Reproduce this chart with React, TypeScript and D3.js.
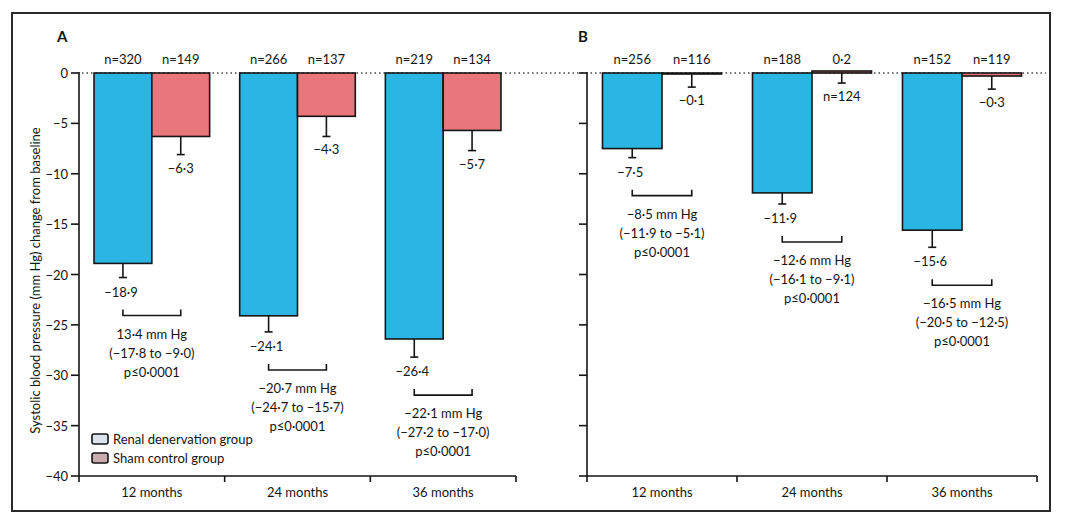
import React from "react";
import * as d3 from "d3";

const months = ["12 months", "24 months", "36 months"];
const groups = ["renal", "sham"];

const renalA = [-18.9, -24.1, -26.4];
const shamA = [-6.3, -4.3, -5.7];
const renalAErr = [-20.3, -25.7, -28.2];
const shamAErr = [-8.1, -6.3, -7.7];
const nRenalA = [320, 266, 219];
const nShamA = [149, 137, 134];
const diffA = ["13·4 mm Hg", "−20·7 mm Hg", "−22·1 mm Hg"];
const ciA = ["(−17·8 to −9·0)", "(−24·7 to −15·7)", "(−27·2 to −17·0)"];

const renalB = [-7.5, -11.9, -15.6];
const shamB = [-0.1, 0.2, -0.3];
const renalBErr = [-8.4, -13.0, -17.3];
const shamBErr = [-1.4, -1.0, -1.6];
const nRenalB = [256, 188, 152];
const nShamB = [116, 124, 119];
const diffB = ["−8·5 mm Hg", "−12·6 mm Hg", "−16·5 mm Hg"];
const ciB = ["(−11·9 to −5·1)", "(−16·1 to −9·1)", "(−20·5 to −12·5)"];

const pText = "p≤0·0001";
const yTicks = [0, -5, -10, -15, -20, -25, -30, -35, -40];
const legendLabels = ["Renal denervation group", "Sham control group"];

const BLUE = "#2bb5e5";
const RED = "#e8767b";
const LEG = ["#dbe4ec", "#c9abb0"];
const FONT = "Lato, 'Open Sans', sans-serif";
const INK = "#151515";

const fmt = (v: number) => {
  const s = d3.format(".1f")(Math.abs(v)).replace(".", "·");
  return v < 0 ? "−" + s : s;
};

const y = d3.scaleLinear().domain([0, -40]).range([73, 476]);

type PanelProps = {
  label: string;
  x0: number;
  x1: number;
  renal: number[];
  sham: number[];
  renalErr: number[];
  shamErr: number[];
  nRenal: number[];
  nSham: number[];
  diff: string[];
  ci: string[];
  showTickLabels: boolean;
};

function Panel(p: PanelProps) {
  const xb = d3.scaleBand<string>().domain(months).range([p.x0, p.x1]).padding(0);
  const xg = d3
    .scaleBand<string>()
    .domain(groups)
    .range([0, xb.bandwidth()])
    .paddingInner(0)
    .paddingOuter(0.26);
  const bw = xg.bandwidth();
  const y0 = y(0);
  const boundaries = [p.x0, ...months.map((m) => (xb(m) as number) + xb.bandwidth())];

  return (
    <g>
      <text x={p.label === "A" ? 57 : 578} y={42} fontFamily={FONT} fontWeight={700} fontSize={15} fill={INK}>
        {p.label}
      </text>
      {/* y axis */}
      <line x1={p.x0} x2={p.x0} y1={y(0) - 1} y2={y(-40)} stroke={INK} strokeWidth={1.6} />
      {yTicks.map((t) => (
        <g key={t}>
          <line x1={p.x0 - 8} x2={p.x0} y1={y(t)} y2={y(t)} stroke={INK} strokeWidth={1.6} />
          {p.showTickLabels && (
            <text
              x={p.x0 - 11}
              y={y(t)}
              textAnchor="end"
              dominantBaseline="central"
              fontFamily={FONT}
              fontSize={13}
              fill={INK}
            >
              {t === 0 ? "0" : "−" + Math.abs(t)}
            </text>
          )}
        </g>
      ))}
      {/* x axis */}
      <line x1={p.x0} x2={p.x1} y1={y(-40)} y2={y(-40)} stroke={INK} strokeWidth={1.6} />
      {boundaries.map((b, i) => (
        <line key={i} x1={b} x2={b} y1={y(-40)} y2={y(-40) + 6} stroke={INK} strokeWidth={1.6} />
      ))}
      {months.map((m) => (
        <text
          key={m}
          x={(xb(m) as number) + xb.bandwidth() / 2}
          y={492}
          textAnchor="middle"
          dominantBaseline="central"
          fontFamily={FONT}
          fontSize={13}
          fill={INK}
        >
          {m}
        </text>
      ))}
      {months.map((m, i) => {
        const bx = xb(m) as number;
        const rx = bx + (xg("renal") as number);
        const sx = bx + (xg("sham") as number);
        const rc = rx + bw / 2;
        const sc = sx + bw / 2;
        const rv = p.renal[i];
        const sv = p.sham[i];
        const re = p.renalErr[i];
        const se = p.shamErr[i];
        const rLabelY = y(re) + 14;
        const sAbove = sv > 0;
        const sLabelY = y(se) + 13;
        const brY = rLabelY + 24;
        const brC = (rc + sc) / 2;
        const sTop = Math.min(y(sv), y0);
        const sH = Math.max(Math.abs(y(sv) - y0), 1);
        return (
          <g key={m}>
            {/* bars */}
            <rect x={rx} y={y0} width={bw} height={y(rv) - y0} fill={BLUE} stroke={INK} strokeWidth={1.6} />
            <rect x={sx} y={sTop} width={bw} height={sH} fill={RED} stroke={INK} strokeWidth={1.6} />
            {/* error bars */}
            <line x1={rc} x2={rc} y1={y(rv)} y2={y(re)} stroke={INK} strokeWidth={1.6} />
            <line x1={rc - 4} x2={rc + 4} y1={y(re)} y2={y(re)} stroke={INK} strokeWidth={1.6} />
            <line x1={sc} x2={sc} y1={Math.max(y(sv), y0)} y2={y(se)} stroke={INK} strokeWidth={1.6} />
            <line x1={sc - 4} x2={sc + 4} y1={y(se)} y2={y(se)} stroke={INK} strokeWidth={1.6} />
            {/* n labels */}
            <text x={rc} y={59} textAnchor="middle" dominantBaseline="central" fontFamily={FONT} fontSize={13} fill={INK}>
              {"n=" + p.nRenal[i]}
            </text>
            <text
              x={sc}
              y={sAbove ? sLabelY : 59}
              textAnchor="middle"
              dominantBaseline="central"
              fontFamily={FONT}
              fontSize={13}
              fill={INK}
            >
              {"n=" + p.nSham[i]}
            </text>
            {/* value labels */}
            <text x={rc - 2} y={rLabelY} textAnchor="middle" dominantBaseline="central" fontFamily={FONT} fontSize={13} fill={INK}>
              {fmt(rv)}
            </text>
            <text
              x={sc}
              y={sAbove ? 59 : sLabelY}
              textAnchor="middle"
              dominantBaseline="central"
              fontFamily={FONT}
              fontSize={13}
              fill={INK}
            >
              {fmt(sv)}
            </text>
            {/* bracket */}
            <path
              d={`M${rc},${brY - 6}V${brY}H${sc}V${brY - 6}`}
              fill="none"
              stroke={INK}
              strokeWidth={1.6}
            />
            {[p.diff[i], p.ci[i], pText].map((t, k) => (
              <text
                key={k}
                x={brC}
                y={brY + 18 + k * 19}
                textAnchor="middle"
                dominantBaseline="central"
                fontFamily={FONT}
                fontSize={13}
                fill={INK}
              >
                {t}
              </text>
            ))}
          </g>
        );
      })}
    </g>
  );
}

export default function App() {
  return (
    <svg
      width={1080}
      height={525}
      viewBox="0 0 1080 525"
      style={{ position: "absolute", left: 0, top: 0, background: "#fff" }}
    >
      <rect x={0} y={0} width={1080} height={525} fill="#fff" />
      <rect x={12} y={13} width={1038} height={498} fill="#fff" stroke="#2a2a2a" strokeWidth={2} />
      {/* zero dotted line */}
      <line x1={82} x2={1046} y1={y(0)} y2={y(0)} stroke="#444" strokeWidth={1.4} strokeDasharray="1.5,3" />
      <Panel
        label="A"
        x0={79}
        x1={516}
        renal={renalA}
        sham={shamA}
        renalErr={renalAErr}
        shamErr={shamAErr}
        nRenal={nRenalA}
        nSham={nShamA}
        diff={diffA}
        ci={ciA}
        showTickLabels={true}
      />
      <Panel
        label="B"
        x0={587}
        x1={1037}
        renal={renalB}
        sham={shamB}
        renalErr={renalBErr}
        shamErr={shamBErr}
        nRenal={nRenalB}
        nSham={nShamB}
        diff={diffB}
        ci={ciB}
        showTickLabels={false}
      />
      {/* y axis title */}
      <text
        transform={`translate(35,${(y(0) + y(-40)) / 2 + 6}) rotate(-90)`}
        textAnchor="middle"
        dominantBaseline="central"
        fontFamily={FONT}
        fontSize={13}
        fill={INK}
      >
        Systolic blood pressure (mm Hg) change from baseline
      </text>
      {/* legend */}
      {legendLabels.map((l, i) => (
        <g key={l}>
          <rect
            x={92}
            y={434 + i * 19}
            width={16}
            height={10}
            rx={2}
            fill={LEG[i]}
            stroke={INK}
            strokeWidth={1.6}
          />
          <text x={113} y={439 + i * 19} dominantBaseline="central" fontFamily={FONT} fontSize={13} fill={INK}>
            {l}
          </text>
        </g>
      ))}
    </svg>
  );
}
